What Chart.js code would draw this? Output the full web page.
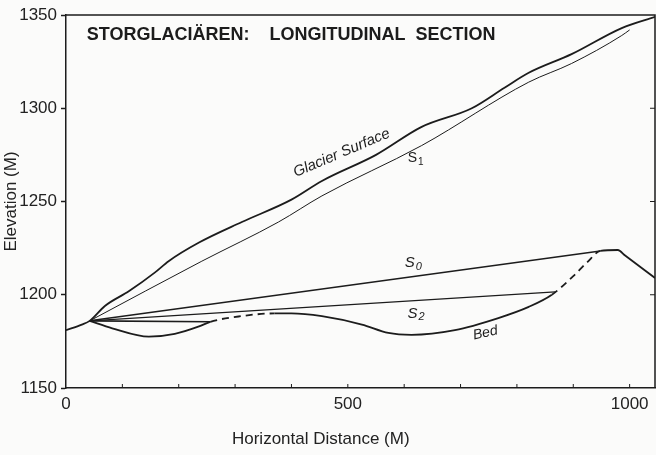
<!DOCTYPE html>
<html>
<head>
<meta charset="utf-8">
<script src="https://cdn.jsdelivr.net/npm/chart.js@4"></script>
<style>
  html, body { margin: 0; padding: 0; background: #fbfbfa; }
  #wrap { width: 656px; height: 455px; }
</style>
</head>
<body>
<div id="wrap"><canvas id="chart"></canvas></div>
<script>
// profile lines, [horizontal distance (m), elevation (m)]
const surface = [[0, 1181], [28, 1184], [42, 1186], [69, 1194], [112, 1202], [158, 1212], [182, 1218], [236, 1228],
  [312, 1239], [400, 1251], [454, 1261], [550, 1275], [631, 1290], [720, 1300], [778, 1311], [821, 1319],
  [897, 1329], [986, 1343], [1045, 1349]]
const s1 = [[42, 1186], [241, 1218], [377, 1239], [454, 1253], [631, 1280], [821, 1314], [897, 1324], [986, 1339], [1000, 1342]]
const s0 = [[42, 1186], [948, 1223.5]]
const s2 = [[42, 1186], [868, 1201.5]]
const ledge = [[42, 1186], [256, 1185.5]]
const bed = [[42, 1186], [82, 1182], [147, 1177.5], [193, 1179], [236, 1183], [256, 1185.5], [310, 1188.5], [370, 1190],
  [400, 1190], [454, 1188.5], [525, 1184], [572, 1179.5], [613, 1178.5], [690, 1181], [767, 1187.5], [821, 1193.5],
  [862, 1200], [900, 1210], [925, 1217.5], [948, 1223.5], [979, 1224], [992, 1221], [1045, 1209]]
// bed segments that are drawn dashed (index of segment start)
const bedDashed = [5, 6, 16, 17, 18]

const xLabels = [0, 500, 1000]
const ink = '#1c1c1c'
const fontName = '"Liberation Sans", Arial, sans-serif'

const notes = [
  { text: 'STORGLACIÄREN:    LONGITUDINAL  SECTION', x: 37, y: 1336.5, font: 'bold 18px', angle: 0, align: 'left' },
  { text: 'Glacier Surface', x: 489, y: 1276, font: 'italic 15px', angle: -23 },
  { text: 'S', sub: '1', x: 620, y: 1273, font: '14px', angle: 0 },
  { text: 'S', sub: '0', x: 615, y: 1217, font: 'italic 15px', angle: 0 },
  { text: 'S', sub: '2', x: 620, y: 1190, font: 'italic 15px', angle: 0 },
  { text: 'Bed', x: 744, y: 1179.5, font: 'italic 14px', angle: -12 }
]
const xTitle = { text: 'Horizontal Distance (M)', x: 452, below: 51 }

const toPts = arr => arr.map(([x, y]) => ({ x, y }))

const line = (label, pts, width, extra) => Object.assign({
  label,
  data: toPts(pts),
  borderColor: ink,
  borderWidth: width,
  pointRadius: 0,
  fill: false,
  cubicInterpolationMode: 'monotone'
}, extra)

const decor = {
  id: 'decor',
  beforeDraw (chart) {
    const ctx = chart.ctx
    ctx.save()
    ctx.fillStyle = '#fbfbfa'
    ctx.fillRect(0, 0, chart.width, chart.height)
    ctx.restore()
  },
  afterDatasetsDraw (chart) {
    const { ctx, chartArea: a, scales: { x, y } } = chart
    ctx.save()
    ctx.strokeStyle = ink
    ctx.lineWidth = 1.5
    ctx.beginPath()
    ctx.moveTo(a.left, a.top)
    ctx.lineTo(a.right, a.top)
    ctx.lineTo(a.right, a.bottom)
    ctx.stroke()

    // small inward ticks on the bottom and right edges
    ctx.lineWidth = 1
    ctx.beginPath()
    x.ticks.forEach(t => {
      if (t.value <= x.min || t.value >= x.max) return
      const px = x.getPixelForValue(t.value)
      ctx.moveTo(px, a.bottom)
      ctx.lineTo(px, a.bottom - 4)
    })
    y.ticks.forEach(t => {
      if (t.value <= y.min || t.value >= y.max) return
      const py = y.getPixelForValue(t.value)
      ctx.moveTo(a.right, py)
      ctx.lineTo(a.right - 5, py)
    })
    ctx.stroke()

    // text notes
    ctx.fillStyle = ink
    notes.forEach(n => {
      const px = x.getPixelForValue(n.x)
      const py = y.getPixelForValue(n.y)
      ctx.save()
      ctx.translate(px, py)
      ctx.rotate(n.angle * Math.PI / 180)
      ctx.font = n.font + ' ' + fontName
      ctx.textBaseline = n.align === 'left' ? 'alphabetic' : 'middle'
      if (n.sub) {
        const w = ctx.measureText(n.text).width
        ctx.textAlign = 'left'
        ctx.fillText(n.text, -w / 2 - 3, 0)
        const size = parseFloat(n.font.match(/(\d+)px/)[1])
        ctx.font = n.font.replace(/\d+px/, Math.round(size * 0.72) + 'px') + ' ' + fontName
        ctx.fillText(n.sub, w / 2 - 2, 4)
      } else {
        ctx.textAlign = n.align || 'center'
        ctx.fillText(n.text, 0, 0)
      }
      ctx.restore()
    })

    // x axis title, centred under the middle of the distance range as in the original
    ctx.fillStyle = '#222'
    ctx.font = '17px ' + fontName
    ctx.textAlign = 'center'
    ctx.textBaseline = 'middle'
    ctx.fillText(xTitle.text, x.getPixelForValue(xTitle.x), a.bottom + xTitle.below)
    ctx.restore()
  }
}

new Chart(document.getElementById('chart'), {
  type: 'line',
  data: {
    datasets: [
      line('Glacier Surface', surface, 1.8),
      line('S1', s1, 1),
      line('S0', s0, 1.5, { cubicInterpolationMode: 'default', tension: 0 }),
      line('S2', s2, 1.3, { cubicInterpolationMode: 'default', tension: 0 }),
      line('Ledge', ledge, 1.6, { cubicInterpolationMode: 'default', tension: 0 }),
      line('Bed', bed, 1.8, {
        segment: {
          borderDash: c => bedDashed.includes(c.p0DataIndex) ? [7, 5] : undefined
        }
      })
    ]
  },
  options: {
    responsive: true,
    maintainAspectRatio: false,
    animation: false,
    devicePixelRatio: 1,
    layout: { padding: { top: 15, right: 1, bottom: 0, left: 0 } },
    plugins: {
      legend: { display: false },
      tooltip: { enabled: false }
    },
    scales: {
      x: {
        type: 'linear',
        min: 0,
        max: 1045,
        ticks: {
          stepSize: 100,
          includeBounds: false,
          autoSkip: false,
          maxRotation: 0,
          padding: 6,
          color: '#222',
          font: { family: fontName, size: 17 },
          callback: v => xLabels.includes(v) ? String(v) : ''
        },
        grid: { drawOnChartArea: false, drawTicks: false },
        border: { color: ink, width: 1.5 },
        afterFit: s => { s.height = 67 }
      },
      y: {
        type: 'linear',
        min: 1150,
        max: 1350,
        ticks: {
          stepSize: 50,
          padding: 4,
          color: '#222',
          font: { family: fontName, size: 17 },
          callback: v => String(v)
        },
        grid: { drawOnChartArea: false, tickLength: 5, color: ink, tickWidth: 1.5 },
        border: { color: ink, width: 1.5 },
        title: {
          display: true,
          text: 'Elevation (M)',
          color: '#222',
          font: { family: fontName, size: 17 },
          padding: { top: 1, bottom: 0 }
        },
        afterFit: s => { s.width = 66 }
      }
    }
  },
  plugins: [decor]
})
</script>
</body>
</html>
